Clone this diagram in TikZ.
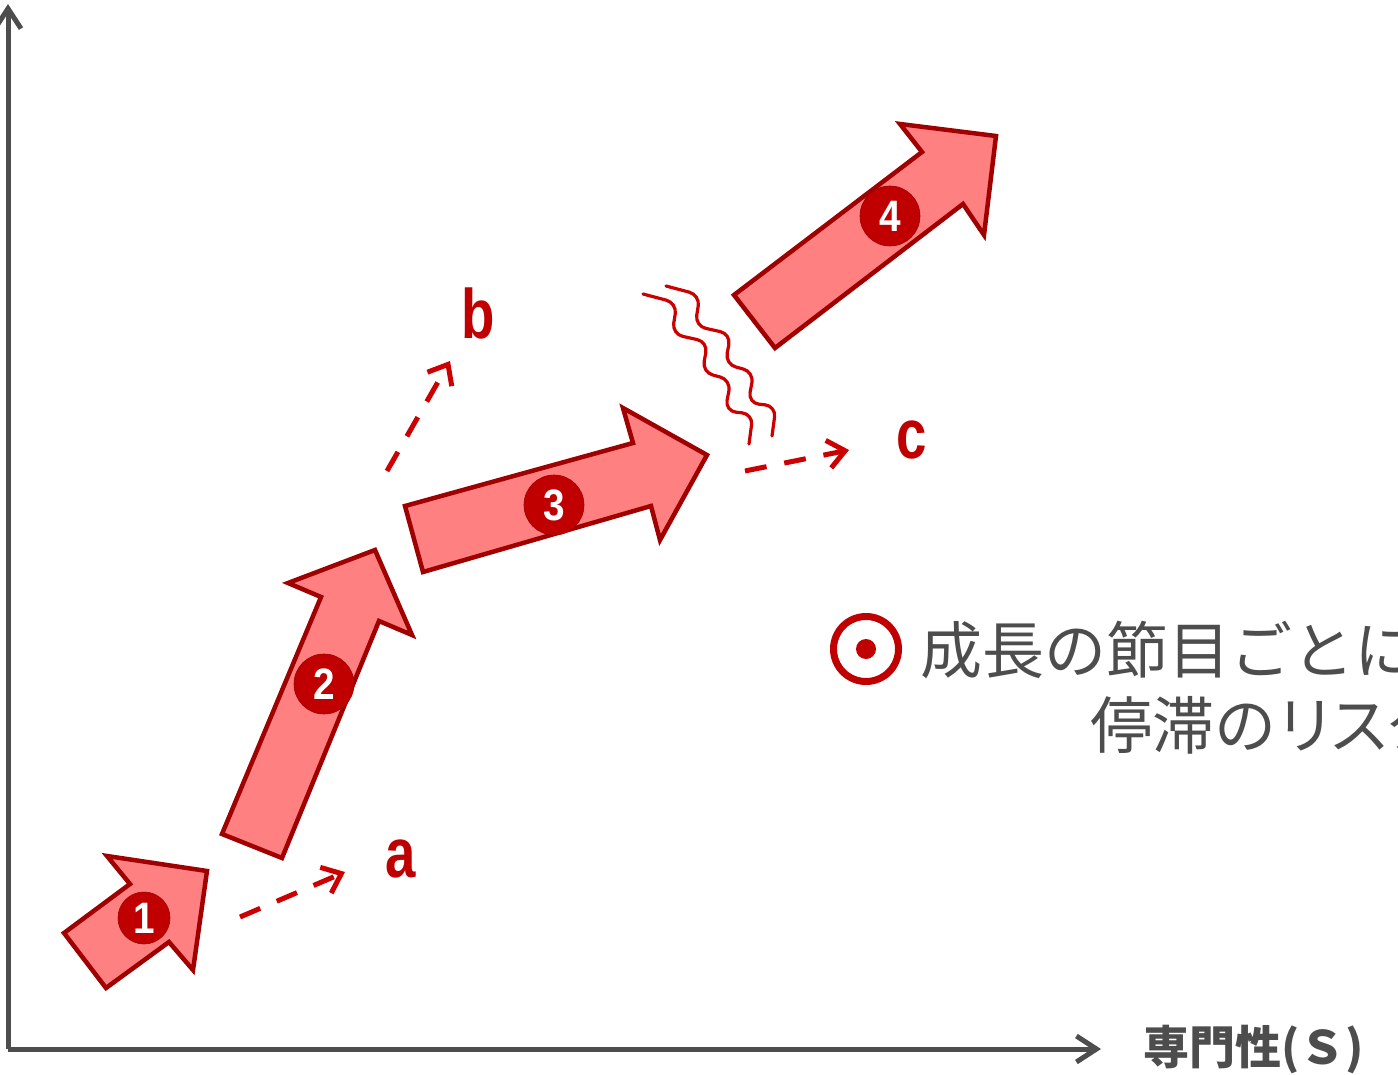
\documentclass[tikz,border=0pt]{standalone}
\usepackage{fontspec}
\setmainfont{Liberation Sans}
\newfontfamily\cjk{Noto Sans CJK JP}
\usetikzlibrary{arrows.meta}
\definecolor{arrowfill}{RGB}{255,128,128}
\definecolor{arrowedge}{RGB}{160,0,0}
\definecolor{numred}{RGB}{192,0,0}
\definecolor{dashred}{RGB}{204,0,0}
\definecolor{axisgray}{RGB}{77,77,77}
\tikzset{
  bigarrow/.style={fill=arrowfill, draw=arrowedge, line width=4.5pt, line join=miter},
  numc/.style={circle, fill=numred, draw=arrowedge, line width=0.6pt, inner sep=0pt, text=white,
    font=\fontsize{44}{44}\selectfont\bfseries},
  dasharrow/.style={draw=dashred, line width=5pt, dash pattern=on 22pt off 18pt,
    -{Straight Barb[length=17pt,width=28pt]}},
  lbl/.style={text=numred, anchor=base, inner sep=0pt, font=\fontsize{70}{70}\selectfont\bfseries},
  axisline/.style={draw=axisgray, line width=5pt, -{Straight Barb[length=20pt,width=26pt]}},
  wave/.style={draw=dashred, line width=3.2pt, rounded corners=11pt, line cap=round},
  jtext/.style={text=axisgray, anchor=west, inner sep=0pt, font=\cjk\fontsize{62}{62}\selectfont}
}
\begin{document}
\begin{tikzpicture}[x=1pt,y=-1pt]
\useasboundingbox (0,0) rectangle (1398,1075);
\clip (0,0) rectangle (1398,1075);

% axes
\coordinate (O) at (8,1049);
\coordinate (ytop) at (8,4);
\coordinate (xend) at (1101,1049);
\draw[axisline] (O) -- (ytop);
\draw[axisline] (O) -- (xend);
\node[text=axisgray, anchor=west, inner sep=0pt, font=\cjk\fontsize{46}{46}\selectfont\bfseries] (xlabel) at (1143,1050) {専門性(Ｓ)};

% big arrows
\draw[bigarrow] (64,933) -- (130,884) -- (107,856) -- (207,871) -- (193,970) -- (169,942) -- (106,988) -- cycle;
\draw[bigarrow] (222,834) -- (321,597) -- (288,583) -- (375,550) -- (412,635) -- (379,621) -- (282,858) -- cycle;
\draw[bigarrow] (405,506) -- (633,443) -- (623,408) -- (707,455) -- (660,540) -- (651,506) -- (423,572) -- cycle;
\draw[bigarrow] (734,295) -- (922,152) -- (900,124) -- (996,136) -- (984,235) -- (963,204) -- (775,348) -- cycle;

% number circles
\node[numc, minimum size=52pt] (n1) at (144,918) {\scalebox{0.88}[1]{1}};
\node[numc, minimum size=60pt] (n2) at (324,684) {\scalebox{0.88}[1]{2}};
\node[numc, minimum size=60pt] (n3) at (554,505) {\scalebox{0.88}[1]{3}};
\node[numc, minimum size=60pt] (n4) at (890,216) {\scalebox{0.88}[1]{4}};

% dashed branch arrows
\coordinate (a0) at (240,917);
\coordinate (a1) at (345,872);
\coordinate (b0) at (387,471);
\coordinate (b1) at (450,361);
\coordinate (c0) at (745,471);
\coordinate (c1) at (849,450);
\draw[dasharrow] (a0) -- (a1);
\draw[dasharrow] (b0) -- (b1);
\draw[dasharrow] (c0) -- (c1);

\node[lbl] (la) at (401,877) {\scalebox{0.78}[1]{a}};
\node[lbl] (lb) at (478,338) {\scalebox{0.78}[1]{b}};
\node[lbl] (lc) at (912,458) {\scalebox{0.78}[1]{c}};

% wavy lines
\draw[wave] (643,294) -- (677,303) -- (672,334) -- (708,342) -- (702,372) -- (731,380) -- (725,411) -- (753,414) -- (749,444);
\draw[wave] (666,286) -- (700,295) -- (695,326) -- (731,334) -- (725,364) -- (754,372) -- (748,403) -- (776,406) -- (772,436);

% target bullet and text
\node[circle, draw=numred, line width=7pt, minimum size=65pt, inner sep=0pt] (ring) at (866,649) {};
\node[circle, fill=numred, minimum size=20pt, inner sep=0pt] (dot) at (ring.center) {};
\node[jtext] (t1) at (920,650) {成長の節目ごとに};
\node[jtext] (t2) at (1090,725) {停滞の\kern-2pt リ\kern-8pt ス\kern-6pt ク};
\end{tikzpicture}
\end{document}
